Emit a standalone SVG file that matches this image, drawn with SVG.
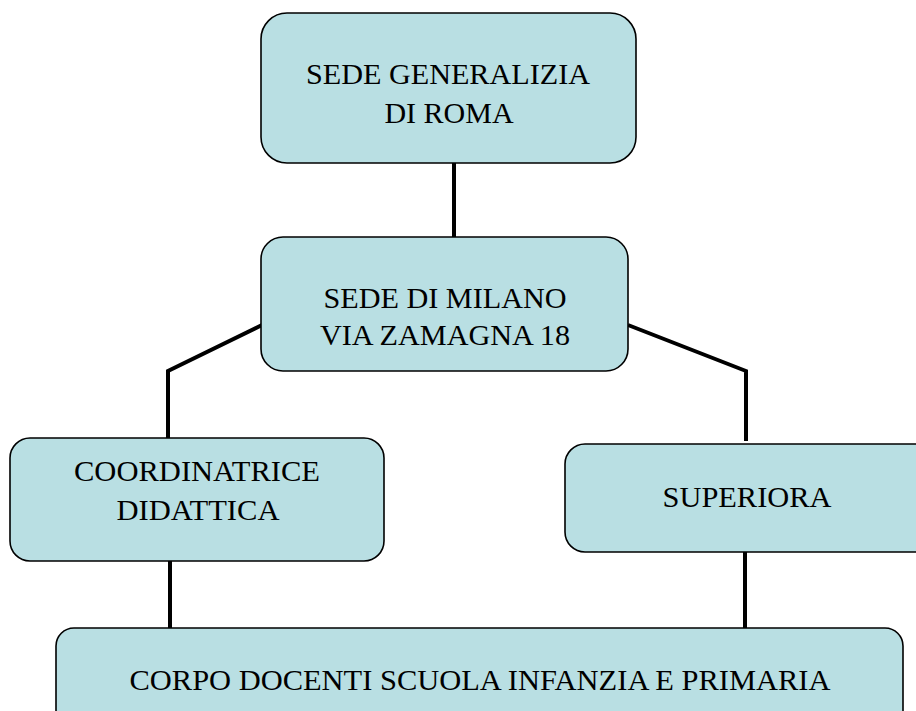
<svg xmlns="http://www.w3.org/2000/svg" width="916" height="711" viewBox="0 0 916 711">
<style>
.box{fill:#b9dfe3;stroke:#000;stroke-width:1.6}
.t{font-family:"Liberation Serif","DejaVu Serif",serif;font-size:30px;fill:#000;text-anchor:middle}
.c{fill:none;stroke:#000;stroke-width:4;stroke-linejoin:miter}
</style>
<rect width="916" height="711" fill="#fff"/>
<g id="connectors">
<path class="c" d="M454 163 V239"/>
<path class="c" d="M262 325 L168 371 V441"/>
<path class="c" d="M628 325 L746 371 V441"/>
<path class="c" d="M170 561 V629"/>
<path class="c" d="M745 552 V629"/>
</g>
<g id="roma">
<rect class="box" x="261" y="13" width="375" height="150" rx="26"/>
<text class="t" x="448" y="84" textLength="284" lengthAdjust="spacingAndGlyphs">SEDE GENERALIZIA</text>
<text class="t" x="449" y="123">DI ROMA</text>
</g>
<g id="milano">
<rect class="box" x="261" y="237" width="367" height="134" rx="22"/>
<text class="t" x="445" y="308" textLength="243" lengthAdjust="spacingAndGlyphs">SEDE DI MILANO</text>
<text class="t" x="445" y="345" textLength="250" lengthAdjust="spacingAndGlyphs">VIA ZAMAGNA 18</text>
</g>
<g id="coordinatrice">
<rect class="box" x="10" y="438" width="374" height="123" rx="20"/>
<text class="t" x="197" y="481" textLength="246" lengthAdjust="spacingAndGlyphs">COORDINATRICE</text>
<text class="t" x="198" y="520" textLength="163" lengthAdjust="spacingAndGlyphs">DIDATTICA</text>
</g>
<g id="superiora">
<rect class="box" x="565" y="444" width="370" height="108" rx="20"/>
<text class="t" x="747" y="507" textLength="169" lengthAdjust="spacingAndGlyphs">SUPERIORA</text>
</g>
<g id="corpo">
<rect class="box" x="56" y="628" width="847" height="110" rx="18"/>
<text class="t" x="480" y="690" textLength="701" lengthAdjust="spacingAndGlyphs">CORPO DOCENTI SCUOLA INFANZIA E PRIMARIA</text>
</g>
</svg>
